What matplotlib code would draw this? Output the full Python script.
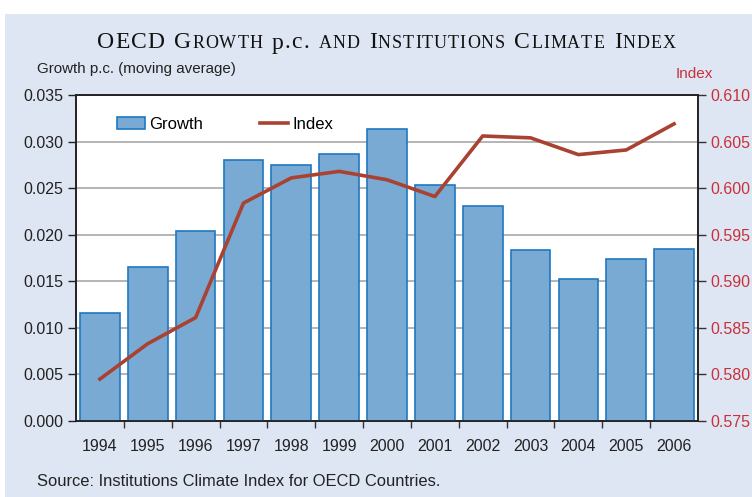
import matplotlib
matplotlib.use("Agg")
import matplotlib.pyplot as plt
from matplotlib.offsetbox import TextArea, HPacker, AnnotationBbox
from matplotlib.patches import Rectangle, Patch
from matplotlib.lines import Line2D
from matplotlib.ticker import FixedLocator

# ---- data ----
years = ["1994", "1995", "1996", "1997", "1998", "1999", "2000",
         "2001", "2002", "2003", "2004", "2005", "2006"]
growth = [0.0116, 0.0165, 0.0204, 0.0280, 0.0275, 0.0287, 0.0314,
          0.0253, 0.0231, 0.0184, 0.0152, 0.0174, 0.0185]
index = [0.5795, 0.5833, 0.5861, 0.5984, 0.6011, 0.6018, 0.6009,
         0.5991, 0.6056, 0.6054, 0.6036, 0.6041, 0.6069]
left_ticks = [0.000, 0.005, 0.010, 0.015, 0.020, 0.025, 0.030, 0.035]
right_ticks = [0.575, 0.580, 0.585, 0.590, 0.595, 0.600, 0.605, 0.610]

BG = "#dfe6f3"
BAR_FACE = "#79aad4"
BAR_EDGE = "#1f78c2"
LINE_C = "#aa4232"
RED = "#c8313a"
TXT = "#222222"

plt.rcParams["font.family"] = ["Liberation Sans", "DejaVu Sans"]

fig = plt.figure(figsize=(7.52, 4.97), dpi=100, facecolor="white")
fig.patches.append(Rectangle((5 / 752, 0), 1, (497 - 14) / 497,
                             transform=fig.transFigure, facecolor=BG,
                             edgecolor="none", zorder=-10))

ax = fig.add_axes([76 / 752, (497 - 421) / 497, 622 / 752, 326 / 497])
ax.set_facecolor("white")
x = list(range(len(years)))
ax.bar(x, growth, width=0.83, color=BAR_FACE, edgecolor=BAR_EDGE,
       linewidth=1.2, zorder=3)
ax.set_xlim(-0.5, len(years) - 0.5)
ax.set_ylim(left_ticks[0], left_ticks[-1])
ax.set_yticks(left_ticks)
ax.set_yticklabels([f"{v:.3f}" for v in left_ticks])
ax.yaxis.grid(True, color="#a8a8a8", linewidth=1.2, zorder=1)
ax.set_axisbelow(True)
ax.set_xticks(x)
ax.set_xticklabels(years)
ax.xaxis.set_minor_locator(FixedLocator([i + 0.5 for i in x[:-1]]))
ax.tick_params(axis="x", which="major", length=0, labelsize=11.5,
               colors=TXT, pad=13)
ax.tick_params(axis="x", which="minor", length=5, direction="out",
               color="#333333", width=1)
ax.tick_params(axis="y", labelsize=11.5, colors=TXT, length=6, width=1,
               direction="out", pad=3)
for s in ax.spines.values():
    s.set_color("#222222")
    s.set_linewidth(1.2)

ax2 = ax.twinx()
ax2.plot(x, index, color=LINE_C, linewidth=2.6, zorder=5)
ax2.set_ylim(right_ticks[0], right_ticks[-1])
ax2.set_yticks(right_ticks)
ax2.set_yticklabels([f"{v:.3f}" for v in right_ticks])
ax2.tick_params(axis="y", labelsize=11.5, labelcolor=RED, color="#333333",
                length=6, width=1, direction="out", pad=3)
for s in ax2.spines.values():
    s.set_color("#222222")
    s.set_linewidth(1.2)

handles = [Patch(facecolor=BAR_FACE, edgecolor=BAR_EDGE, linewidth=1.2),
           Line2D([0], [0], color=LINE_C, linewidth=2.6)]
ax2.legend(handles, ["Growth", "Index"], ncol=2, frameon=False,
           loc="center left", bbox_to_anchor=(0.055, 0.911),
           fontsize=12, handlelength=1.7, handletextpad=0.25,
           columnspacing=3.4, borderaxespad=0)

fig.text(37 / 752, 1 - 69 / 497, "Growth p.c. (moving average)",
         fontsize=10.9, color=TXT, ha="left", va="center")
fig.text(694 / 752, 1 - 74 / 497, "Index", fontsize=11, color=RED,
         ha="center", va="center")
fig.text(37 / 752, 1 - 481 / 497,
         "Source: Institutions Climate Index for OECD Countries.",
         fontsize=11.9, color=TXT, ha="left", va="center")

# small-caps style title
BIG, SMALL = 17, 13
serif = ["Liberation Serif", "DejaVu Serif"]


def ta(s, size):
    return TextArea(s, textprops=dict(fontsize=size, family=serif,
                                      color="#111111"))


def word_box(parts):
    chars = []
    for s, z in parts:
        for c in s:
            chars.append(ta(c, z))
    return HPacker(children=chars, pad=0, sep=0.7, align="baseline")


words = [[("OECD", BIG)], [("G", BIG), ("ROWTH", SMALL)], [("p.c.", BIG)],
         [("AND", SMALL)], [("I", BIG), ("NSTITUTIONS", SMALL)],
         [("C", BIG), ("LIMATE", SMALL)], [("I", BIG), ("NDEX", SMALL)]]
title = HPacker(children=[word_box(w) for w in words], pad=0, sep=7,
                align="baseline")
ab = AnnotationBbox(title, (386.5 / 752, 1 - 43 / 497),
                    xycoords="figure fraction", frameon=False,
                    box_alignment=(0.5, 0.5), pad=0)
fig.add_artist(ab)

fig.savefig("out.png", dpi=100, facecolor="white")
